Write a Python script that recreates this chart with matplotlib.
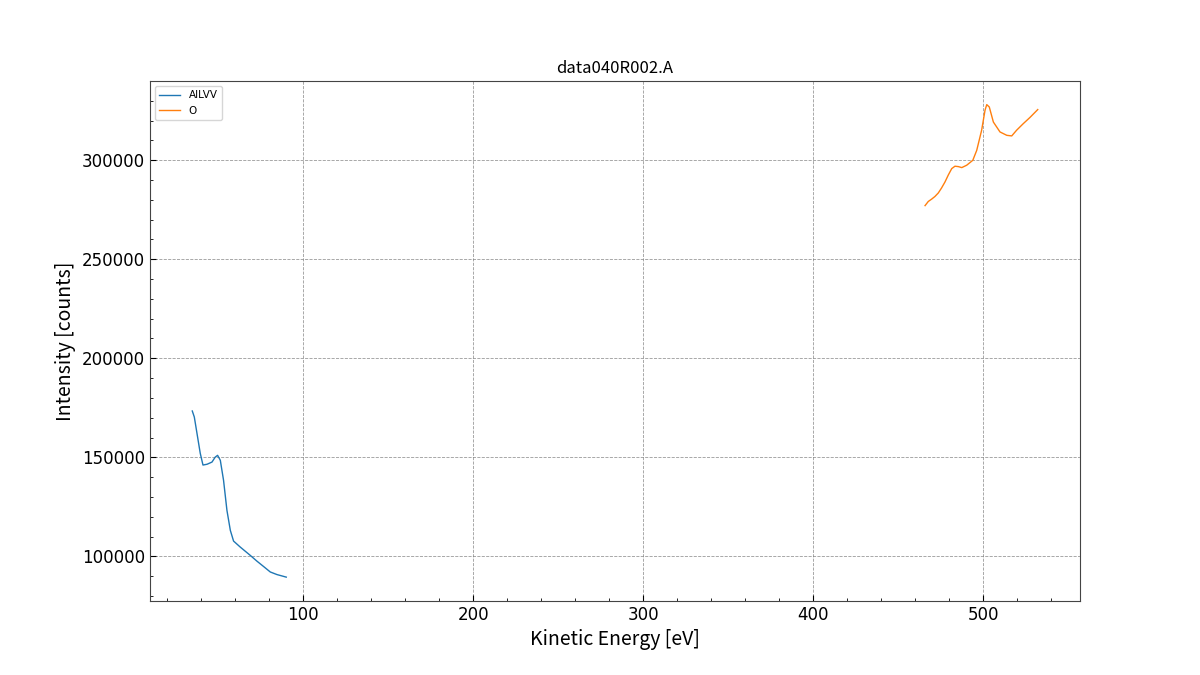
import matplotlib
matplotlib.use('Agg')
import matplotlib.pyplot as plt
from matplotlib.ticker import MultipleLocator

# AlLVV region
al_energy = [34.7, 35.9, 39.4, 41.0, 43.4, 46.3, 48.2, 49.6, 51.2, 53.1, 55.1,
             57.1, 59.0, 62.9, 68.8, 72.7, 76.6, 80.6, 84.5, 90.0]
al_counts = [173400, 170350, 152000, 146100, 146500, 147600, 150100, 151000,
             148500, 138400, 123200, 113100, 107700, 104700, 100500, 97600,
             94900, 92100, 90800, 89500]

# O KLL region
o_energy = [465.9, 467.8, 469.8, 471.7, 473.7, 475.6, 477.6, 479.6, 481.6,
            483.5, 485.5, 487.5, 490.4, 494.0, 496.3, 499.2, 501.2, 502.2,
            503.7, 506.1, 510.0, 514.0, 516.9, 519.8, 523.7, 527.6, 532.2]
o_counts = [277100, 279200, 280400, 281700, 283500, 286000, 289000, 292600,
            295800, 297000, 296800, 296300, 297500, 300000, 305000, 315200,
            325300, 328100, 326900, 319300, 314300, 312600, 312300, 315200,
            318500, 321600, 325600]

label_font = ['Noto Sans CJK JP', 'DejaVu Sans']

fig, ax = plt.subplots(figsize=(12, 6.75), dpi=100)
ax.plot(al_energy, al_counts, color='#1f77b4', lw=1, label='AlLVV')
ax.plot(o_energy, o_counts, color='#ff7f0e', lw=1, label='O')

ax.set_title('data040R002.A', fontsize=12, family=label_font)
ax.set_xlabel('Kinetic Energy [eV]', fontsize=14, family=label_font)
ax.set_ylabel('Intensity [counts]', fontsize=14, family=label_font)

ax.xaxis.set_minor_locator(MultipleLocator(20))
ax.yaxis.set_minor_locator(MultipleLocator(10000))
ax.tick_params(which='both', direction='in', labelsize=12)
ax.tick_params(which='major', length=4)
ax.tick_params(which='minor', length=2.5)
for s in ax.spines.values():
    s.set_color('#444444')

ax.grid(True, which='major', ls='--', color='gray', lw=0.6, alpha=0.8)
ax.legend(loc='upper left', fontsize=7.5)

fig.savefig('out.png')
